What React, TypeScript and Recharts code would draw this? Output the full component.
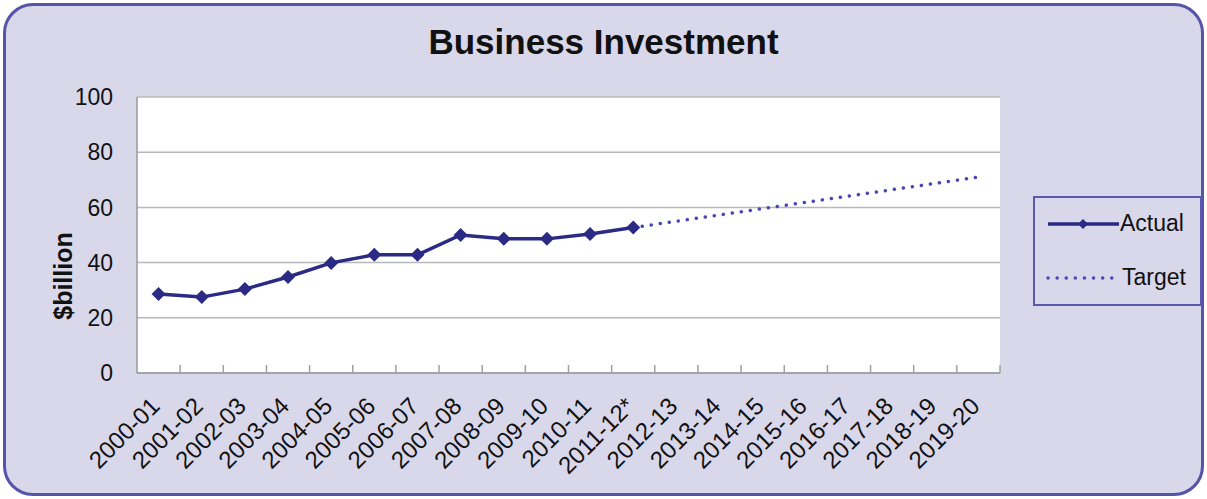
import React from 'react'
import {
  LineChart,
  Line,
  XAxis,
  YAxis,
  CartesianGrid,
} from 'recharts'

// Categories (financial years)
const YEARS = [
  '2000-01', '2001-02', '2002-03', '2003-04', '2004-05', '2005-06', '2006-07',
  '2007-08', '2008-09', '2009-10', '2010-11', '2011-12*', '2012-13', '2013-14',
  '2014-15', '2015-16', '2016-17', '2017-18', '2018-19', '2019-20',
]

// Actual business investment, $billion
const ACTUAL = [
  28.6, 27.5, 30.4, 34.8, 39.9, 42.8, 42.8, 50.0, 48.6, 48.6, 50.4, 52.7,
  null, null, null, null, null, null, null, null,
]

// Target path (start + end point)
const TARGET = [
  null, null, null, null, null, null, null, null, null, null, null, 52.7,
  null, null, null, null, null, null, null, 71.0,
]

const Y_TICKS = [0, 20, 40, 60, 80, 100]

const data = YEARS.map((year, i) => ({
  year,
  actual: ACTUAL[i],
  target: TARGET[i],
}))

const NAVY = '#2b2a85'
const DOTTED = '#4b48b4'
const BG = '#d9d8eb'
const FONT = 'Arial, "Liberation Sans", sans-serif'

// plot box
const W = 1207
const H = 499
const M = { top: 97, right: 207, bottom: 0, left: 0 }
const Y_AXIS_W = 137
const X_AXIS_H = 126
const PLOT_W = W - M.left - M.right - Y_AXIS_W
const PLOT_BOTTOM = H - M.bottom - X_AXIS_H
const BAND = PLOT_W / YEARS.length

// diamond marker
function Diamond(props: any) {
  const { cx, cy, value } = props
  if (value == null || cx == null || cy == null) return null
  const r = 7
  return (
    <polygon
      key={`d-${cx}`}
      points={`${cx},${cy - r} ${cx + r},${cy} ${cx},${cy + r} ${cx - r},${cy}`}
      fill={NAVY}
    />
  )
}

// rotated label + small inward tick marks between categories
function XTick(props: any) {
  const { x, payload, index } = props
  const left = x - BAND / 2
  const right = x + BAND / 2
  return (
    <g>
      {index > 0 && (
        <line x1={left} y1={PLOT_BOTTOM} x2={left} y2={PLOT_BOTTOM - 8} stroke="#a0a0a0" strokeWidth={1.5} />
      )}
      {index === YEARS.length - 1 && (
        <line x1={right} y1={PLOT_BOTTOM} x2={right} y2={PLOT_BOTTOM - 8} stroke="#a0a0a0" strokeWidth={1.5} />
      )}
      <g transform={`translate(${x - 3},${PLOT_BOTTOM + 29})`}>
        <text
          transform="rotate(-45)"
          textAnchor="end"
          fontSize={24}
          fill="#111"
          fontFamily={FONT}
          dy={8}
        >
          {payload.value}
        </text>
      </g>
    </g>
  )
}

function YLabel(props: any) {
  const { viewBox } = props
  const x = viewBox.x + 72
  const y = viewBox.y + viewBox.height / 2 + 41
  return (
    <text
      x={x}
      y={y}
      transform={`rotate(-90, ${x}, ${y})`}
      textAnchor="middle"
      fontSize={25}
      fontWeight="bold"
      fill="#111"
      fontFamily={FONT}
    >
      $billion
    </text>
  )
}

function LegendBox() {
  return (
    <div
      style={{
        position: 'absolute',
        left: 1033,
        top: 196,
        width: 169,
        height: 110,
        border: '2px solid #5b59ad',
        background: BG,
        boxSizing: 'border-box',
        fontFamily: FONT,
        fontSize: 23,
        color: '#111',
      }}
    >
      <svg width={90} height={108} style={{ position: 'absolute', left: 0, top: 0 }}>
        <line x1={13} y1={26} x2={84} y2={26} stroke={NAVY} strokeWidth={3.5} />
        <polygon points="48,21 53,26 48,31 43,26" fill={NAVY} />
        <line
          x1={13}
          y1={80}
          x2={78}
          y2={80}
          stroke={DOTTED}
          strokeWidth={3.5}
          strokeDasharray="0.1 9"
          strokeLinecap="round"
        />
      </svg>
      <span style={{ position: 'absolute', left: 85, top: 12 }}>Actual</span>
      <span style={{ position: 'absolute', left: 87, top: 66 }}>Target</span>
    </div>
  )
}

export default function App() {
  return (
    <div
      style={{
        position: 'absolute',
        left: 0,
        top: 0,
        width: W,
        height: H,
        background: '#ffffff',
      }}
    >
      <div
        style={{
          position: 'absolute',
          left: 3,
          top: 3,
          width: 1201,
          height: 493,
          boxSizing: 'border-box',
          border: '3px solid #5553aa',
          borderRadius: 30,
          background: BG,
        }}
      />
      <div
        style={{
          position: 'absolute',
          left: 0,
          top: 22,
          width: W,
          textAlign: 'center',
          fontFamily: FONT,
          fontWeight: 'bold',
          fontSize: 35,
          color: '#111',
        }}
      >
        Business Investment
      </div>
      <div style={{ position: 'absolute', left: 0, top: 0 }}>
        <LineChart width={W} height={H} data={data} margin={M}>
          <CartesianGrid
            vertical={false}
            stroke="#b8b8b8"
            strokeWidth={1.5}
            fill="#ffffff"
          />
          <XAxis
            dataKey="year"
            scale="band"
            interval={0}
            height={X_AXIS_H}
            tickLine={false}
            axisLine={{ stroke: '#999', strokeWidth: 1.5 }}
            tick={<XTick />}
          />
          <YAxis
            domain={[0, 100]}
            ticks={Y_TICKS}
            width={Y_AXIS_W}
            tickLine={false}
            axisLine={{ stroke: '#999', strokeWidth: 1.5 }}
            tickMargin={18}
            tick={{ fontSize: 23, fill: '#111', fontFamily: FONT }}
            label={<YLabel />}
          />
          <YAxis
            yAxisId="right"
            orientation="right"
            width={0}
            tick={false}
            tickLine={false}
            axisLine={{ stroke: '#c8c8c8', strokeWidth: 1.5 }}
          />
          <Line
            dataKey="target"
            name="Target"
            stroke={DOTTED}
            strokeWidth={3.5}
            strokeDasharray="0.1 9"
            strokeLinecap="round"
            dot={false}
            activeDot={false}
            connectNulls
            isAnimationActive={false}
          />
          <Line
            dataKey="actual"
            name="Actual"
            stroke={NAVY}
            strokeWidth={3.5}
            dot={<Diamond />}
            activeDot={false}
            isAnimationActive={false}
          />
        </LineChart>
      </div>
      <LegendBox />
    </div>
  )
}
